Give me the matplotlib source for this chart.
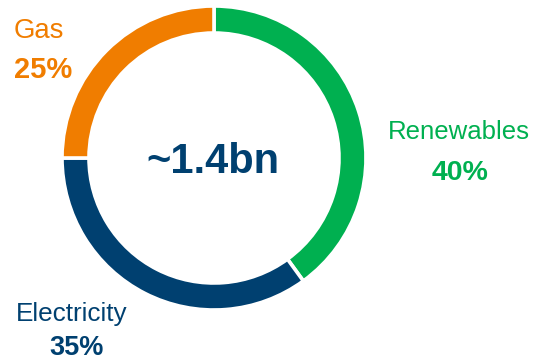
import matplotlib
matplotlib.use("Agg")
import matplotlib.pyplot as plt

labels = ["Renewables", "Electricity", "Gas"]
shares = [40, 35, 25]
colors = ["#00B050", "#004070", "#F07D00"]
total_label = "~1.4bn"

W, H = 543, 361
fig = plt.figure(figsize=(W / 100, H / 100), dpi=100)
ax = fig.add_axes([0, 0, 1, 1])

cx, cy, r = 214, H - 158, 152
ax.pie(shares, colors=colors, startangle=90, counterclock=False,
       center=(cx, cy), radius=r, frame=True,
       wedgeprops=dict(width=27, edgecolor="white", linewidth=2.6))
ax.set_xlim(0, W)
ax.set_ylim(0, H)
ax.set_aspect("equal")
ax.axis("off")

plt.rcParams["font.family"] = ["Liberation Sans", "DejaVu Sans"]

ax.text(cx - 1, H - 173, total_label, ha="center", va="baseline",
        fontsize=30, fontweight="bold", color=colors[1])

# Renewables
ax.text(459, H - 139, labels[0], ha="center", va="baseline", fontsize=18.5, color=colors[0])
ax.text(460, H - 180, f"{shares[0]}%", ha="center", va="baseline", fontsize=20.5,
        fontweight="bold", color=colors[0])
# Electricity
ax.text(72, H - 321, labels[1], ha="center", va="baseline", fontsize=18.8, color=colors[1])
ax.text(77, H - 355, f"{shares[1]}%", ha="center", va="baseline", fontsize=19.5,
        fontweight="bold", color=colors[1])
# Gas
ax.text(14, H - 38, labels[2], ha="left", va="baseline", fontsize=19.8, color=colors[2])
ax.text(14, H - 78, f"{shares[2]}%", ha="left", va="baseline", fontsize=21,
        fontweight="bold", color=colors[2])

fig.savefig("out.png", dpi=100)
